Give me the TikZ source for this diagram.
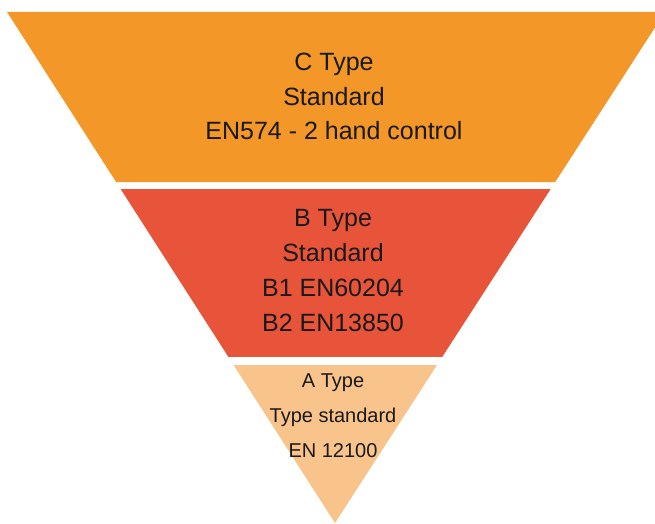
\documentclass[tikz,border=0pt]{standalone}
\usepackage{fontspec}
\setmainfont{Liberation Sans}
\usetikzlibrary{calc}
\definecolor{ctype}{RGB}{243,151,41}
\definecolor{btype}{RGB}{232,84,58}
\definecolor{atype}{RGB}{249,196,139}
\begin{document}
\begin{tikzpicture}[x=1pt,y=-1pt,
	label text/.style={align=center,inner sep=0pt,text=black!90}]
	    \useasboundingbox(0,0)rectangle(655,524);
	    \clip(0,0)rectangle(655,524);

	    \coordinate(L)at(7,12);
	    \coordinate(R)at(665,12);
	    \coordinate(P)at(335,523);

	    % C Type
	    \coordinate(C1)at($(L)!0.3327!(P)$);
	    \coordinate(C2)at($(R)!0.3327!(P)$);
	    % B Type
	    \coordinate(B1)at($(L)!0.3464!(P)$);
	    \coordinate(B2)at($(R)!0.3464!(P)$);
	    \coordinate(B3)at($(R)!0.6751!(P)$);
	    \coordinate(B4)at($(L)!0.6751!(P)$);
	    % A Type
	    \coordinate(A1)at($(L)!0.6908!(P)$);
	    \coordinate(A2)at($(R)!0.6908!(P)$);

	    \fill[ctype](L)--(R)--(C2)--(C1)--cycle;
	    \fill[btype](B1)--(B2)--(B3)--(B4)--cycle;
	    \fill[atype](A1)--(A2)--(P)--cycle;

	    \node[label text,font=\fontsize{25}{34.5}\selectfont](ctext)at(334,96.5)
	        {C Type\\Standard\\EN574 - 2 hand control};
	    \node[label text,font=\fontsize{25}{35}\selectfont](btext)at(333,271)
	        {B Type\\Standard\\B1 EN60204\\B2 EN13850};
	    \node[label text,font=\fontsize{20}{35}\selectfont](atext)at(333,416)
	        {A Type\\Type standard\\EN 12100};
\end{tikzpicture}
\end{document}
